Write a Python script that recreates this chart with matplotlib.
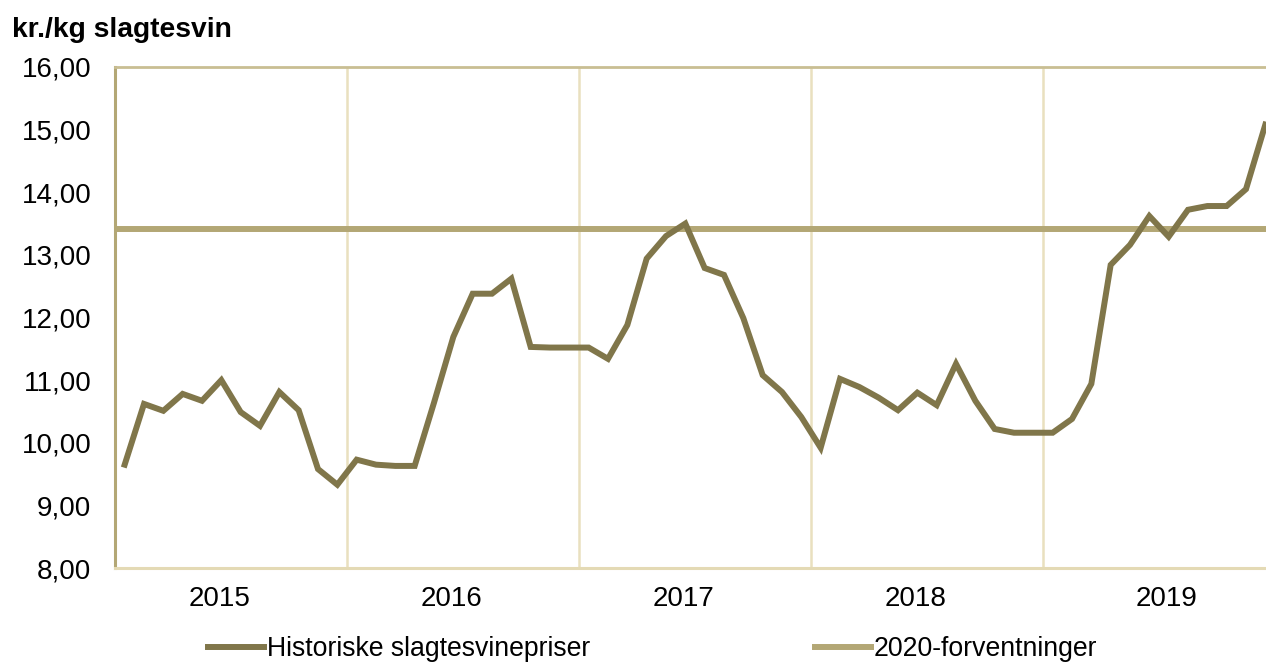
import matplotlib
matplotlib.use("Agg")
import matplotlib.pyplot as plt
import numpy as np

plt.rcParams['font.family'] = ['Liberation Sans', 'DejaVu Sans']

# Monthly prices, Jan 2015 .. Dec 2019 (kr./kg)
prices = [
    9.65, 10.62, 10.51, 10.78, 10.67, 11.00, 10.49, 10.27, 10.81, 10.52, 9.58, 9.33,
    9.73, 9.65, 9.63, 9.63, 10.64, 11.69, 12.38, 12.38, 12.62, 11.53, 11.52, 11.52,
    11.52, 11.34, 11.88, 12.94, 13.30, 13.50, 12.79, 12.68, 11.99, 11.08, 10.81, 10.41,
    9.92, 11.02, 10.89, 10.72, 10.52, 10.80, 10.60, 11.26, 10.67, 10.22, 10.16, 10.16,
    10.16, 10.38, 10.94, 12.84, 13.16, 13.62, 13.29, 13.72, 13.78, 13.78, 14.05, 15.08,
]
expectation_2020 = 13.42
years = ["2015", "2016", "2017", "2018", "2019"]
year_label_pos = [5.4, 17.4, 29.4, 41.4, 54.4]
yticks = [8, 9, 10, 11, 12, 13, 14, 15, 16]

W, H = 1266, 664
fig = plt.figure(figsize=(W / 100, H / 100), dpi=100)
ax = fig.add_axes([115 / W, 1 - 568 / H, 1 - 115 / W, (568 - 67) / H])

x = np.arange(len(prices)) + 0.5
xmax = (1266 - 115) / ((1275 - 115) / 60)

main_c = "#80764A"
exp_c = "#B3A775"
grid_c = "#E9E0BF"

for gx in [12, 24, 36, 48]:
    ax.axvline(gx, color=grid_c, lw=1.8, zorder=1)

ax.plot(x, prices, color=main_c, lw=4.3, solid_joinstyle='miter', zorder=3,
        label="Historiske slagtesvinepriser")
ax.plot([0, xmax + 1], [expectation_2020] * 2, color=exp_c, lw=4.3, zorder=2,
        label="2020-forventninger")

ax.set_xlim(0, xmax)
ax.set_ylim(8, 16)
ax.set_yticks(yticks)
ax.set_yticklabels([f"{v:.2f}".replace(".", ",") for v in yticks])
ax.set_xticks(year_label_pos)
ax.set_xticklabels(years)
ax.tick_params(axis='both', length=0, labelsize=20, colors='black')
ax.tick_params(axis='y', pad=17)
ax.tick_params(axis='x', pad=13)

ax.spines['right'].set_visible(False)
ax.spines['left'].set_color(exp_c)
ax.spines['left'].set_linewidth(2.2)
ax.spines['bottom'].set_color("#E4DAB5")
ax.spines['bottom'].set_linewidth(2.2)
ax.spines['top'].set_color("#C9BE93")
ax.spines['top'].set_linewidth(2.0)

fig.text(12 / W, 1 - 30 / H, "kr./kg slagtesvin", fontsize=20.3, fontweight='bold',
         ha='left', va='center')

leg = fig.legend(loc='center left', bbox_to_anchor=(208 / W, 1 - 649 / H), ncol=2,
                 frameon=False, fontsize=19.2, handlelength=2.1, handletextpad=0.1,
                 columnspacing=8.45, borderaxespad=0, borderpad=0)

fig.savefig("out.png", dpi=100)
